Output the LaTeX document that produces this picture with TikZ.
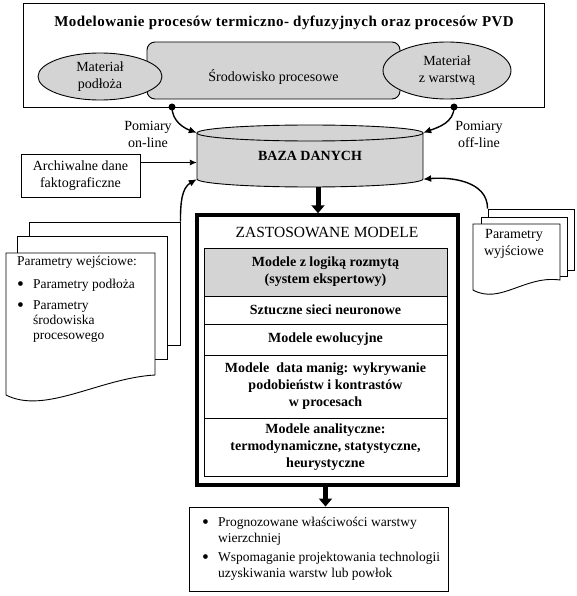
\documentclass[tikz,border=0pt]{standalone}
\usepackage{fontspec}
\setmainfont{Liberation Serif}
\usetikzlibrary{arrows.meta,shapes.geometric}
\definecolor{procgray}{RGB}{212,212,212}

\begin{document}
\begin{tikzpicture}[x=1pt,y=1pt,
		txt/.style={font=\fontsize{14}{17}\selectfont, align=center},
		boldtxt/.style={font=\fontsize{14}{17}\selectfont\bfseries, align=center},
		thin/.style={draw, line width=0.9pt},
		page/.style={draw, line width=0.9pt, fill=white, inner sep=0pt},
		oval/.style={ellipse, draw, line width=0.9pt, fill=procgray, inner sep=0pt, txt},
		modelrow/.style={draw, line width=0.9pt, minimum width=243, inner sep=0pt, boldtxt},
		curvearr/.style={-{Latex[length=8pt,width=7pt]}, line width=1.4pt},
		bigarr/.style={-{Triangle[length=8pt,width=13pt]}, line width=5pt},
		dot/.style={circle, fill, inner sep=0pt, minimum size=7pt}]
		\newcommand*{\bulletBox}{\makebox[16pt][l]{\smash{\raisebox{-1.5pt}{\scalebox{1.45}{\textbullet}}}}}
		\newcommand*{\bulletGap}{\hspace*{16pt}}

		\useasboundingbox (0,0) rectangle (577,-596);

		% modelled process
		\node[thin, minimum width=521, minimum height=104, inner sep=0pt] (model) at (283.5,-55) {};
		\node[txt, font=\fontsize{15}{17}\selectfont\bfseries\addfontfeature{LetterSpace=3}] (title) at (284,-23) {Modelowanie procesów termiczno- dyfuzyjnych oraz procesów PVD};
		\node[thin, fill=procgray, rounded corners=8, minimum width=253, minimum height=57, inner sep=0pt] (env) at (273.5,-70.5) {};
		\node[txt] (envText) at ([yshift=-6]env.center) {Środowisko procesowe};
		\node[oval, minimum width=124, minimum height=47] (sub) at (100,-76.5) {Materiał\\podłoża};
		\node[oval, minimum width=128, minimum height=57] (layer) at (447,-70.5) {Materiał\\z warstwą};
		\node[dot] (dotL) at (172,-107) {};
		\node[dot] (dotR) at (454,-107) {};

		% database
		\fill[procgray] (197,-133) -- (197,-179) arc[start angle=180, end angle=360, x radius=113, y radius=8] -- (423,-133) -- cycle;
		\draw[line width=0.9pt] (197,-133) -- (197,-179) arc[start angle=180, end angle=360, x radius=113, y radius=8] -- (423,-133);
		\draw[line width=0.9pt, fill=procgray] (310,-133) ellipse[x radius=113, y radius=8];
		\node[boldtxt, minimum width=226, minimum height=62, inner sep=0pt] (db) at (310,-156) {BAZA DANYCH};

		\draw[curvearr] (dotL.center) to[out=-90, in=160] ([yshift=-8]db.north west);
		\draw[curvearr] (dotR.center) to[out=-90, in=20] ([yshift=-8]db.north east);
		\node[txt] (online) at (148,-134) {Pomiary\\on-line};
		\node[txt] (offline) at (479,-134) {Pomiary\\off-line};

		\node[thin, txt, minimum width=119, minimum height=43, inner sep=0pt] (arch) at (80.5,-175.5) {Archiwalne dane\\faktograficzne};
		\draw[-{Latex[length=7pt,width=6pt]}, line width=0.9pt] ([yshift=13]arch.east) -- ([yshift=13]arch.east -| db.west);

		% input parameters
		\node[page, minimum width=151, minimum height=123] (inP3) at (104.5,-283.5) {};
		\node[page, minimum width=150, minimum height=123] (inP2) at (92,-297.5) {};
		\draw[line width=0.9pt, fill=white] (6,-253) -- (155,-253) -- (155,-375) .. controls (100,-378) and (45,-415) .. (6,-395) -- cycle;
		\node[align=left, anchor=north west, inner sep=0pt, font=\fontsize{13.5}{15}\selectfont] (inText) at (17,-256) {Parametry wejściowe:\\[8pt]
			\bulletBox Parametry podłoża\\[6pt]
			\bulletBox Parametry\\
			\bulletGap środowiska\\
			\bulletGap procesowego};
		\draw[curvearr] (inP3.north east) to[out=90, in=-150] ([yshift=8]db.south west);

		% output parameters
		\node[page, minimum width=86, minimum height=61] (outP3) at (531,-239.5) {};
		\node[page, minimum width=86, minimum height=59] (outP2) at (524,-246.5) {};
		\draw[line width=0.9pt, fill=white] (473,-224) -- (560,-224) -- (560,-280) .. controls (525,-275) and (500,-305) .. (473,-290) -- cycle;
		\node[txt] (outText) at (514,-244) {Parametry\\wyjściowe};
		\draw[curvearr] (outP3.north west) to[out=90, in=5] ([yshift=8]db.south east);

		% models
		\node[draw, line width=3.5pt, minimum width=261, minimum height=270, inner sep=0pt] (models) at (327.5,-350) {};
		\node[txt, font=\fontsize{15.5}{17}\selectfont] (modTitle) at (327,-232) {ZASTOSOWANE MODELE};
		\node[modelrow, fill=procgray, minimum height=48] (fuzzy) at (325.5,-272) {Modele z logiką rozmytą\\(system ekspertowy)};
		\node[modelrow, minimum height=28] (neural) at (325.5,-310) {Sztuczne sieci neuronowe};
		\node[modelrow, minimum height=31] (evol) at (325.5,-339.5) {Modele ewolucyjne};
		\node[modelrow, minimum height=63] (mining) at (325.5,-386.5) {Modele~ data manig: wykrywanie\\podobieństw i kontrastów\\w procesach};
		\node[modelrow, minimum height=58] (analytic) at (325.5,-447) {Modele analityczne:\\termodynamiczne, statystyczne,\\heurystyczne};

		\draw[bigarr] ([xshift=8]db.south) -- ([xshift=8]db.south |- models.north);

		% results
		\node[thin, minimum width=259, minimum height=84, inner sep=0pt] (result) at (318.5,-549) {};
		\node[txt, align=left, anchor=west, font=\fontsize{13.5}{16}\selectfont] (resText) at ([xshift=10]result.west) {\bulletBox Prognozowane właściwości warstwy\\
			\bulletGap wierzchniej\\[3pt]
			\bulletBox Wspomaganie projektowania technologii\\
			\bulletGap uzyskiwania warstw lub powłok};
		\draw[bigarr] ([xshift=-2]models.south) -- ([xshift=-2]models.south |- result.north);
\end{tikzpicture}
\end{document}
